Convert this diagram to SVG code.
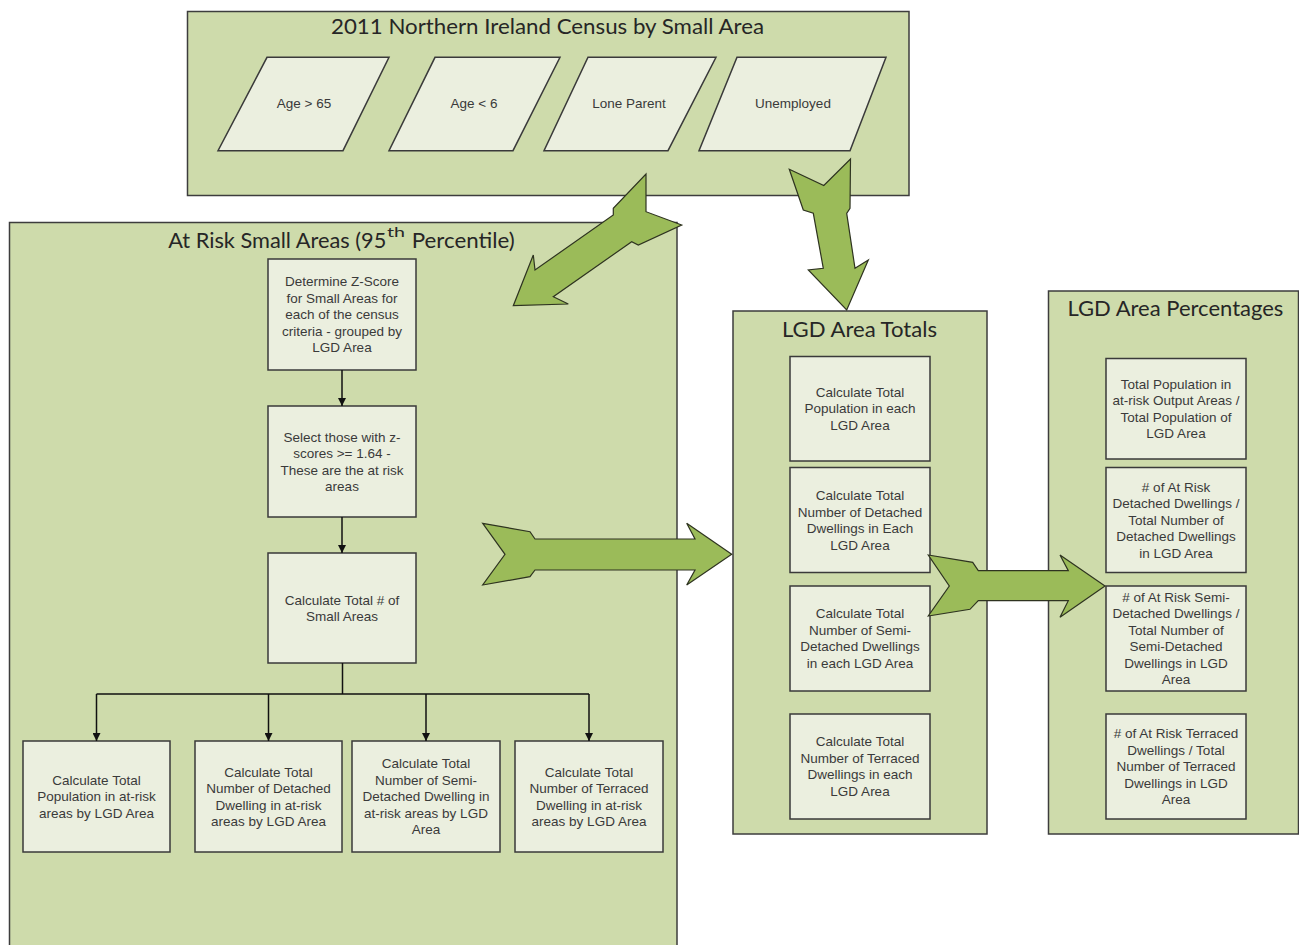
<svg xmlns="http://www.w3.org/2000/svg" width="1299" height="945" viewBox="0 0 1299 945">
<defs>
<style>
.panel{fill:#cedbab;stroke:#3d3d3d;stroke-width:1.5}
.node{fill:#ebefdf;stroke:#3a3a3a;stroke-width:1.5}
.big{fill:#9bbb59;stroke:#2e3320;stroke-width:1.2;stroke-linejoin:miter}
.t{font-family:"Liberation Sans",Arial,sans-serif;font-size:13.5px;fill:#3a3a3a;text-anchor:middle}
.title{font-family:Lato,"Open Sans",sans-serif;font-size:21px;fill:#262626}
.conn{fill:none;stroke:#111;stroke-width:1.5}
</style>
<marker id="ah" viewBox="0 0 10 10" refX="10" refY="5" markerWidth="8" markerHeight="8" markerUnits="userSpaceOnUse" orient="auto">
<path d="M0,0 L10,5 L0,10 Z" fill="#111"/>
</marker>
</defs>
<rect width="1299" height="945" fill="#ffffff"/>

<g id="panel-census">
<rect class="panel" x="187.5" y="11.5" width="721.5" height="184"/>
<text class="title" x="331" y="34" textLength="433" lengthAdjust="spacingAndGlyphs">2011 Northern Ireland Census by Small Area</text>
</g>
<g id="panel-atrisk">
<rect class="panel" x="9.5" y="222.5" width="667.5" height="740"/>
<text class="title" x="168.3" y="248" textLength="218" lengthAdjust="spacingAndGlyphs">At Risk Small Areas (95</text>
<text class="title" x="387" y="237" style="font-size:13px" textLength="18" lengthAdjust="spacingAndGlyphs">th</text>
<text class="title" x="411.7" y="248" textLength="103" lengthAdjust="spacingAndGlyphs">Percentile)</text>
</g>
<g id="panel-totals">
<rect class="panel" x="733" y="311" width="254" height="523"/>
<text class="title" x="782" y="336.5" textLength="155" lengthAdjust="spacingAndGlyphs">LGD Area Totals</text>
</g>
<g id="panel-percent">
<rect class="panel" x="1048.5" y="291" width="250" height="543"/>
<text class="title" x="1067.4" y="316" textLength="216" lengthAdjust="spacingAndGlyphs">LGD Area Percentages</text>
</g>

<g id="in-age65">
<polygon class="node" points="267,57.3 389,57.3 343,150.7 218,150.7"/>
<text class="t" x="304" y="108">Age &gt; 65</text>
</g>
<g id="in-age6">
<polygon class="node" points="435,57.3 560,57.3 513,150.7 389,150.7"/>
<text class="t" x="474" y="108">Age &lt; 6</text>
</g>
<g id="in-lone">
<polygon class="node" points="588,57.3 716,57.3 668,150.7 544,150.7"/>
<text class="t" x="629" y="108">Lone Parent</text>
</g>
<g id="in-unemp">
<polygon class="node" points="737,57.3 886,57.3 850,150.7 699,150.7"/>
<text class="t" x="793" y="108">Unemployed</text>
</g>

<g id="n-zscore">
<rect class="node" x="268" y="259" width="148" height="111"/>
<text class="t" x="342" y="286.3">Determine Z-Score</text>
<text class="t" x="342" y="302.8">for Small Areas for</text>
<text class="t" x="342" y="319.3">each of the census</text>
<text class="t" x="342" y="335.8">criteria - grouped by</text>
<text class="t" x="342" y="352.3">LGD Area</text>
</g>
<g id="n-select">
<rect class="node" x="268" y="406" width="148" height="111"/>
<text class="t" x="342" y="441.5">Select those with z-</text>
<text class="t" x="342" y="458">scores &gt;= 1.64 -</text>
<text class="t" x="342" y="474.5">These are the at risk</text>
<text class="t" x="342" y="491">areas</text>
</g>
<g id="n-count">
<rect class="node" x="268" y="553" width="148" height="110"/>
<text class="t" x="342" y="604.5">Calculate Total # of</text>
<text class="t" x="342" y="621">Small Areas</text>
</g>
<g id="n-pop">
<rect class="node" x="23" y="741" width="147" height="111"/>
<text class="t" x="96.5" y="784.8">Calculate Total</text>
<text class="t" x="96.5" y="801.3">Population in at-risk</text>
<text class="t" x="96.5" y="817.8">areas by LGD Area</text>
</g>
<g id="n-det">
<rect class="node" x="195" y="741" width="147" height="111"/>
<text class="t" x="268.5" y="776.5">Calculate Total</text>
<text class="t" x="268.5" y="793">Number of Detached</text>
<text class="t" x="268.5" y="809.5">Dwelling in at-risk</text>
<text class="t" x="268.5" y="826">areas by LGD Area</text>
</g>
<g id="n-semi">
<rect class="node" x="352" y="741" width="148" height="111"/>
<text class="t" x="426" y="768.3">Calculate Total</text>
<text class="t" x="426" y="784.8">Number of Semi-</text>
<text class="t" x="426" y="801.3">Detached Dwelling in</text>
<text class="t" x="426" y="817.8">at-risk areas by LGD</text>
<text class="t" x="426" y="834.3">Area</text>
</g>
<g id="n-terr">
<rect class="node" x="515" y="741" width="148" height="111"/>
<text class="t" x="589" y="776.5">Calculate Total</text>
<text class="t" x="589" y="793">Number of Terraced</text>
<text class="t" x="589" y="809.5">Dwelling in at-risk</text>
<text class="t" x="589" y="826">areas by LGD Area</text>
</g>

<g id="t-pop">
<rect class="node" x="790" y="356.5" width="140" height="104.5"/>
<text class="t" x="860" y="396.7">Calculate Total</text>
<text class="t" x="860" y="413.2">Population in each</text>
<text class="t" x="860" y="429.7">LGD Area</text>
</g>
<g id="t-det">
<rect class="node" x="790" y="467.5" width="140" height="105"/>
<text class="t" x="860" y="500">Calculate Total</text>
<text class="t" x="860" y="516.5">Number of Detached</text>
<text class="t" x="860" y="533">Dwellings in Each</text>
<text class="t" x="860" y="549.5">LGD Area</text>
</g>
<g id="t-semi">
<rect class="node" x="790" y="586" width="140" height="105"/>
<text class="t" x="860" y="618">Calculate Total</text>
<text class="t" x="860" y="634.5">Number of Semi-</text>
<text class="t" x="860" y="651">Detached Dwellings</text>
<text class="t" x="860" y="667.5">in each LGD Area</text>
</g>
<g id="t-terr">
<rect class="node" x="790" y="714" width="140" height="105"/>
<text class="t" x="860" y="746">Calculate Total</text>
<text class="t" x="860" y="762.5">Number of Terraced</text>
<text class="t" x="860" y="779">Dwellings in each</text>
<text class="t" x="860" y="795.5">LGD Area</text>
</g>

<g id="p-pop">
<rect class="node" x="1106" y="358.5" width="140" height="100.5"/>
<text class="t" x="1176" y="388.5">Total Population in</text>
<text class="t" x="1176" y="405">at-risk Output Areas /</text>
<text class="t" x="1176" y="421.5">Total Population of</text>
<text class="t" x="1176" y="438">LGD Area</text>
</g>
<g id="p-det">
<rect class="node" x="1106" y="467.5" width="140" height="105"/>
<text class="t" x="1176" y="491.8"># of At Risk</text>
<text class="t" x="1176" y="508.3">Detached Dwellings /</text>
<text class="t" x="1176" y="524.8">Total Number of</text>
<text class="t" x="1176" y="541.3">Detached Dwellings</text>
<text class="t" x="1176" y="557.8">in LGD Area</text>
</g>
<g id="p-semi">
<rect class="node" x="1106" y="586" width="140" height="105"/>
<text class="t" x="1176" y="601.5"># of At Risk Semi-</text>
<text class="t" x="1176" y="618">Detached Dwellings /</text>
<text class="t" x="1176" y="634.5">Total Number of</text>
<text class="t" x="1176" y="651">Semi-Detached</text>
<text class="t" x="1176" y="667.5">Dwellings in LGD</text>
<text class="t" x="1176" y="684">Area</text>
</g>
<g id="p-terr">
<rect class="node" x="1106" y="714" width="140" height="105"/>
<text class="t" x="1176" y="738"># of At Risk Terraced</text>
<text class="t" x="1176" y="754.5">Dwellings / Total</text>
<text class="t" x="1176" y="771">Number of Terraced</text>
<text class="t" x="1176" y="787.5">Dwellings in LGD</text>
<text class="t" x="1176" y="804">Area</text>
</g>

<g id="connectors">
<path class="conn" d="M342,370 V406" marker-end="url(#ah)"/>
<path class="conn" d="M342,517 V553" marker-end="url(#ah)"/>
<path class="conn" d="M342.5,663 V694 M96.5,694 H589"/>
<path class="conn" d="M96.5,694 V741" marker-end="url(#ah)"/>
<path class="conn" d="M268.5,694 V741" marker-end="url(#ah)"/>
<path class="conn" d="M426,694 V741" marker-end="url(#ah)"/>
<path class="conn" d="M589,694 V741" marker-end="url(#ah)"/>
<polygon class="big" points="646,174 646,211.7 681.7,225 638.3,245 631.7,241.7 553.3,296.7 568.3,304 513.3,305.7 533.3,255 535,270 613.3,215 613.3,208.3"/>
<polygon class="big" points="789.3,169.3 823.8,185.5 850.5,159 850,208.3 846.7,213.3 855,268.3 868.3,260 846.7,310 808.3,270 823.3,268.3 813.3,213.3 803.3,210"/>
<polygon class="big" points="482.7,523.3 530,531.7 535,539 695,539 686.7,523.3 731.7,554.3 686.7,585 695,570 535,570 530,576.7 482.7,585 505,554.3"/>
<polygon class="big" points="928.3,555 972.7,562.3 978.3,570.7 1068.3,570.7 1060,555 1105,586 1060,617.3 1068.3,600.7 978.3,600.7 970,609.3 928.3,616 949.3,586"/>
</g>
</svg>
